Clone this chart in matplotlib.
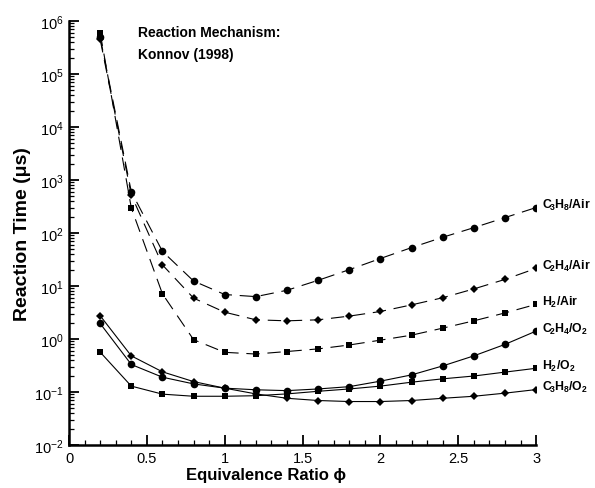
import matplotlib
matplotlib.use('agg')
import matplotlib.pyplot as plt
from matplotlib.ticker import MultipleLocator, LogLocator, FormatStrFormatter, NullFormatter

plt.rcParams['font.family'] = ['Liberation Sans', 'DejaVu Sans']
plt.rcParams['mathtext.fontset'] = 'custom'
plt.rcParams['mathtext.rm'] = 'Liberation Sans'
plt.rcParams['mathtext.bf'] = 'Liberation Sans:bold'
plt.rcParams['mathtext.it'] = 'Liberation Sans:italic'

phi = [0.2, 0.4, 0.6, 0.8, 1.0, 1.2, 1.4, 1.6, 1.8, 2.0, 2.2, 2.4, 2.6, 2.8, 3.0]

# reaction times in microseconds
c3h8_air = [4.9e5, 600, 45, 12.4, 6.9, 6.3, 8.3, 12.8, 20.3, 33, 53, 83, 126, 195, 302]
c2h4_air = [4.5e5, 520, 25, 5.9, 3.2, 2.3, 2.2, 2.3, 2.7, 3.3, 4.4, 6.0, 8.8, 13.3, 21.5]
h2_air = [6.0e5, 297, 7.1, 0.97, 0.56, 0.52, 0.58, 0.65, 0.77, 0.95, 1.18, 1.6, 2.2, 3.1, 4.5]
c2h4_o2 = [1.96, 0.33, 0.19, 0.142, 0.118, 0.11, 0.106, 0.114, 0.126, 0.16, 0.21, 0.31, 0.48, 0.79, 1.41]
h2_o2 = [0.565, 0.129, 0.091, 0.083, 0.083, 0.085, 0.092, 0.103, 0.114, 0.129, 0.153, 0.177, 0.20, 0.237, 0.28]
c3h8_o2 = [2.75, 0.48, 0.24, 0.157, 0.118, 0.092, 0.076, 0.069, 0.066, 0.066, 0.069, 0.076, 0.083, 0.095, 0.111]

series = [
    (c3h8_air, 'o', 'dashed', r'$\mathbf{C\!_3H_8/Air}$'),
    (c2h4_air, 'D', 'dashed', r'$\mathbf{C\!_2H_4/Air}$'),
    (h2_air, 's', 'dashed', r'$\mathbf{H_2/Air}$'),
    (c2h4_o2, 'o', 'solid', r'$\mathbf{C\!_2H_4/O_2}$'),
    (h2_o2, 's', 'solid', r'$\mathbf{H_2/O_2}$'),
    (c3h8_o2, 'D', 'solid', r'$\mathbf{C\!_3H_8/O_2}$'),
]

fig = plt.figure(figsize=(5.95, 4.89), dpi=100)
ax = fig.add_axes([0.116, 0.088, 0.785, 0.867])

for data, marker, style, label in series:
    ls = (0, (12, 7)) if style == 'dashed' else '-'
    ms = {'o': 5.5, 's': 4.8, 'D': 3.6}[marker]
    ax.plot(phi, data, color='black', linewidth=0.8, linestyle=ls,
            marker=marker, markersize=ms, markeredgewidth=0)
    ax.annotate(label, xy=(phi[-1], data[-1]), xytext=(4, 2),
                textcoords='offset points', ha='left', va='center',
                fontsize=8.8, annotation_clip=False)

ax.set_yscale('log')
ax.set_xlim(0, 3)
ax.set_ylim(1e-2, 1e6)

# Axes styling
for side in ['top', 'right']:
    ax.spines[side].set_visible(False)
for side in ['left', 'bottom']:
    ax.spines[side].set_linewidth(1.8)
ax.xaxis.set_major_locator(MultipleLocator(0.5))
ax.xaxis.set_minor_locator(MultipleLocator(0.1))
ax.xaxis.set_major_formatter(FormatStrFormatter('%g'))
ax.yaxis.set_major_locator(LogLocator(base=10, numticks=20))
ax.yaxis.set_minor_locator(LogLocator(base=10, subs=range(2, 10), numticks=20))
ax.yaxis.set_minor_formatter(NullFormatter())
ax.tick_params(which='both', direction='in', top=False, right=False, labelsize=10.5)
ax.tick_params(which='major', length=7, width=1.3, pad=4)
ax.tick_params(which='minor', length=3.5, width=0.9)

# Labels
ax.set_xlabel('Equivalence Ratio \u03d5', fontsize=12, fontweight='bold')
ax.xaxis.set_label_coords(0.422, -0.053, transform=ax.transAxes)
ax.xaxis.label.set_va('top')
ax.set_ylabel('Reaction Time (\u03bcs)', fontsize=14, fontweight='bold', labelpad=2)
ax.text(0.148, 0.99, 'Reaction Mechanism:\nKonnov (1998)', transform=ax.transAxes,
        ha='left', va='top', fontsize=10, fontweight='bold', linespacing=1.75)

plt.savefig('out.png', dpi=100)
